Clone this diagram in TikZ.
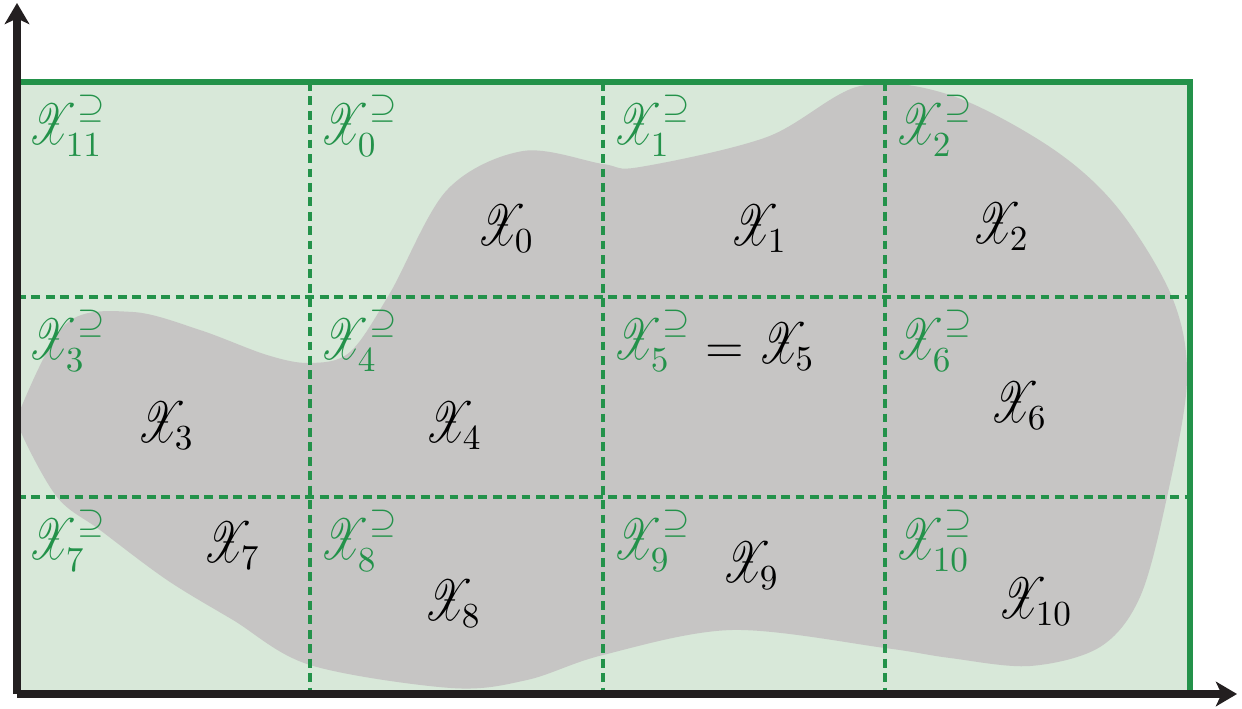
\documentclass[tikz,border=0pt]{standalone}
\usepackage{amsmath,amssymb}
\usepackage{graphicx}
\usepackage{mathrsfs}
\usetikzlibrary{arrows.meta}

\newcommand{\cellX}{\mathord{\scalebox{0.8}[1.14]{$\mathscr{X}$}}}

\begin{document}
\begin{tikzpicture}[
  x=0.01cm, y=-0.01cm,
  font=\fontsize{14}{17}\selectfont,
  grid/.style={draw=cellgreen, line width=1.1pt, dash pattern=on 2.5pt off 1.6pt},
  axis/.style={draw=axisblack, line width=2pt, -{Stealth[length=6pt,width=7pt,inset=1.6pt]}},
  blob/.style={fill=blobgrey},
  outerlab/.style={inner sep=0pt, anchor=base west, text=cellgreen},
  innerlab/.style={inner sep=0pt, anchor=base west, text=black},
]
\definecolor{cellgreen}{HTML}{23924A}
\definecolor{boxfill}{HTML}{D8E8D9}
\definecolor{blobgrey}{HTML}{C6C5C4}
\definecolor{axisblack}{HTML}{231F20}
\useasboundingbox (0,0) rectangle (1242,709);

% ---- box and set ----
\fill[boxfill] (17,82) rectangle (1190,694);
\fill[blob] plot[smooth cycle, tension=0.55] coordinates {
  (20,410) (67,323) (133,312) (200,330) (267,355) (310,363) (350,352)
  (390,293) (447,190) (523,151) (603,164) (640,167) (767,137) (860,86)
  (950,95) (1050,147) (1117,207) (1172,297) (1187,380) (1167,497)
  (1140,597) (1100,647) (1030,666) (950,658) (885,648) (732,630)
  (603,655) (527,680) (451,688) (310,665) (233,620) (167,580)
  (100,530) (57,497) (20,430)};

% ---- cells ----
\foreach \x in {310,603,885}
  \draw[grid] (\x,82) -- (\x,694);
\foreach \y in {297,497}
  \draw[grid] (17,\y) -- (1190,\y);
\draw[cellgreen, line width=1.7pt] (17,82) -- (1190,82) -- (1190,694);

% ---- labels ----
\foreach \i/\cx/\cy in {11/18/82, 0/310/82, 1/603/82, 2/885/82,
    3/18/297, 4/310/297, 5/603/297, 6/885/297,
    7/18/497, 8/310/497, 9/603/497, 10/885/497}
  \node[outerlab] (s\i) at (\cx+10,\cy+62) {$\cellX_{\mkern-6mu\i}^{\supseteq}$};
\foreach \i/\px/\py in {0/477/245, 1/730/245, 2/972/243, 3/137/442,
    4/425/442, 6/990/422, 7/203/562, 8/424/620, 9/722/582, 10/998/618}
  \node[innerlab] (x\i) at (\px,\py) {$\cellX_{\mkern-6mu\i}$};
\node[innerlab] (x5) at (705,363) {$=\cellX_{\mkern-6mu 5}$};

% ---- axes ----
\coordinate (O) at (17,694);
\coordinate (ytop) at (17,3);
\coordinate (xend) at (1237,694);
\draw[axis] (O) -- (ytop);
\draw[axis] (O) -- (xend);
\end{tikzpicture}
\end{document}
